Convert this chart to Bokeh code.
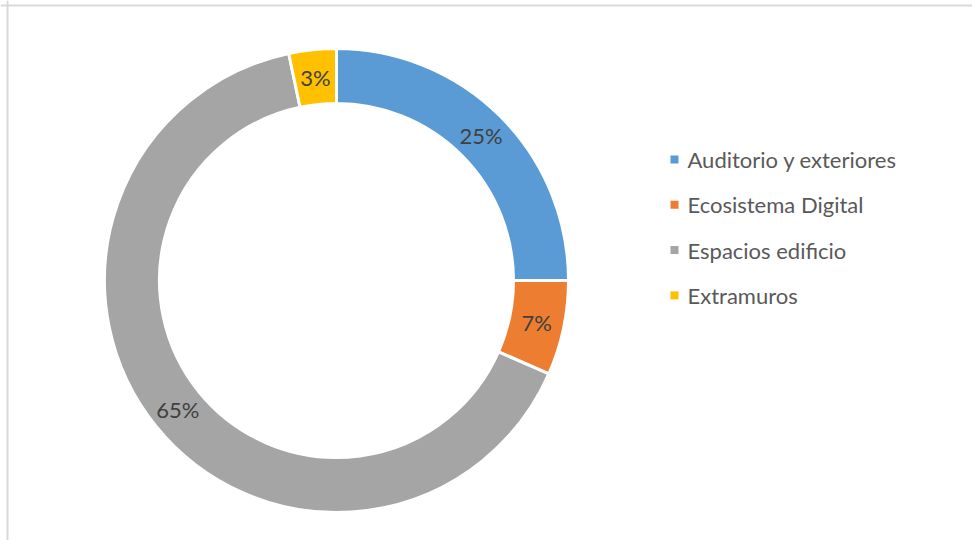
import math
from bokeh.plotting import figure
from bokeh.models import Range1d, ColumnDataSource, Span
from bokeh.core.properties import value
from bokeh.embed import file_html
from bokeh.resources import INLINE

categories = ["Auditorio y exteriores", "Ecosistema Digital", "Espacios edificio", "Extramuros"]
shares = [25.0, 6.6, 65.1, 3.3]
colors = ["#5b9bd5", "#ed7d31", "#a5a5a5", "#ffc000"]
labels = [f"{round(s)}%" for s in shares]

W, H = 972, 540
p = figure(width=W, height=H, output_backend="svg", toolbar_location=None,
           x_range=Range1d(0, W), y_range=Range1d(0, H), min_border=0)
p.axis.visible = False
p.grid.visible = False
p.outline_line_color = None
p.background_fill_color = "white"

cx, cy = 336, 260
r_out, r_in = 232, 177
total = sum(shares)
starts, ends, lx, ly = [], [], [], []
cum = 0.0
r_mid = (r_out + r_in) / 2
for s in shares:
    a0 = math.pi / 2 - 2 * math.pi * (cum + s) / total
    a1 = math.pi / 2 - 2 * math.pi * cum / total
    starts.append(a0)
    ends.append(a1)
    m = (a0 + a1) / 2
    lx.append(cx + r_mid * math.cos(m))
    ly.append(cy + r_mid * math.sin(m))
    cum += s

src = ColumnDataSource(dict(start=starts, end=ends, color=colors, lx=lx, ly=ly, label=labels))
p.annular_wedge(x=cx, y=cy, inner_radius=r_in, outer_radius=r_out,
                start_angle="start", end_angle="end", fill_color="color",
                line_color="white", line_width=3, source=src)
p.text(x="lx", y="ly", text="label", source=src, text_align="center",
       text_baseline="middle", text_font=value("Lato"), text_font_size="22px",
       text_color="#404040")

# legend
leg_x = 674
leg_top = 381
gap = 45.3
lys = [leg_top - i * gap for i in range(len(categories))]
lsrc = ColumnDataSource(dict(x=[leg_x] * len(categories), tx=[leg_x + 13] * len(categories),
                             y=lys, color=colors, name=categories))
p.scatter(x="x", y="y", marker="square", size=8, fill_color="color", line_color=None, source=lsrc)
p.text(x="tx", y="y", text="name", source=lsrc, text_align="left", text_baseline="middle",
       text_font=value("Lato"), text_font_size="22px", text_color="#595959")

p.add_layout(Span(location=7, dimension="height", line_color="#d9d9d9", line_width=2))
p.add_layout(Span(location=535, dimension="width", line_color="#d9d9d9", line_width=2))

open("out.html", "w").write(file_html(p, INLINE))
